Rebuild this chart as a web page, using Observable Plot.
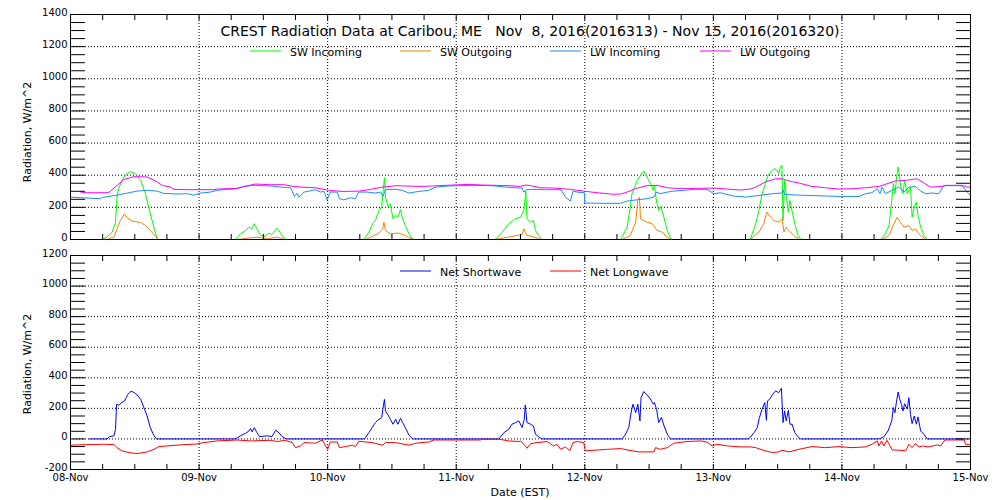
<!DOCTYPE html>
<html><head><meta charset="utf-8">
<script src="https://cdn.jsdelivr.net/npm/d3@7"></script>
<script src="https://cdn.jsdelivr.net/npm/@observablehq/plot@0.6"></script>
<style>
body{margin:0;background:#fff;}
#wrap{position:relative;width:1000px;height:500px;font-family:"DejaVu Sans",sans-serif;}
#wrap svg{position:absolute;left:0;}
</style></head><body><div id="wrap"></div>
<script>
// ---- data (hours since 08-Nov 00:00 EST, W/m^2) ----
const dayTicks = [0, 24, 48, 72, 96, 120, 144, 168];
const dayLabels = ["08-Nov", "09-Nov", "10-Nov", "11-Nov", "12-Nov", "13-Nov", "14-Nov", "15-Nov"];
const titleText = "CREST Radiation Data at Caribou, ME   Nov  8, 2016(2016313) - Nov 15, 2016(2016320)";
const yTitle = "Radiation, W/m^2";
const xTitle = "Date (EST)";
const topLegend = ["SW Incoming", "SW Outgoing", "LW Incoming", "LW Outgoing"];
const topColors = ["#00ff00", "#ff7f00", "#1e8cff", "#ff00ff"];
const botLegend = ["Net Shortwave", "Net Longwave"];
const botColors = ["#0000ff", "#ff0000"];

const swIncoming = [[0,0],[5.9,0],[6.8,15],[7.8,46],[8.4,108],[8.7,274],[9.0,316],[9.6,368],[10.3,405],[11.2,422],[12.1,410],[13.1,368],[14.0,285],[14.9,160],[15.9,35],[16.3,0],
[30.8,0],[31.7,35],[32.7,56],[33.3,77],[33.9,67],[34.3,98],[34.8,67],[35.5,25],[36.4,19],[37.0,40],[37.6,31],[38.5,71],[38.9,56],[39.8,10],[40.3,0],
[54.8,0],[55.7,46],[56.4,98],[56.9,118],[57.6,181],[58.1,202],[58.3,285],[58.6,385],[58.8,264],[59.3,202],[59.7,222],[60.2,129],[60.7,150],[61.1,139],[61.6,185],[62.0,129],[62.5,87],[63.2,35],[63.9,0],
[79.3,0],[80.6,46],[81.8,98],[83.1,129],[84.0,139],[84.6,181],[84.9,264],[85.0,300],[85.2,129],[85.9,108],[86.4,118],[86.8,56],[87.4,25],[88.0,0],
[102.7,0],[103.9,77],[104.5,202],[104.8,285],[105.3,326],[105.8,368],[106.4,399],[107.0,426],[107.6,389],[108.3,347],[108.8,306],[109.0,337],[109.4,233],[109.8,181],[110.1,206],[110.6,160],[111.4,56],[112.1,0],
[126.9,0],[127.9,98],[128.5,181],[129.1,285],[129.7,347],[130.2,399],[130.7,420],[131.3,441],[131.9,430],[132.2,410],[132.5,451],[132.8,462],[133.0,118],[133.3,368],[133.6,274],[134.0,170],[134.3,243],[134.6,191],[134.8,160],[135.3,87],[135.8,25],[136.3,0],
[151.2,0],[152.1,35],[152.8,87],[153.3,243],[153.6,347],[153.9,285],[154.2,389],[154.5,451],[154.7,410],[155.0,326],[155.4,285],[155.7,368],[156.2,285],[156.8,326],[157.1,139],[157.5,202],[157.9,233],[158.2,150],[158.7,77],[159.3,25],[159.9,0],[168,0]];

const swOutgoing = [[0,0],[6.8,0],[8.1,15],[8.7,67],[9.3,118],[10.1,160],[10.6,135],[11.5,114],[13.1,106],[14.0,87],[14.9,56],[15.9,19],[16.3,0],
[31.1,0],[33.6,10],[34.8,15],[36.7,4],[38.6,15],[39.8,0],
[55.1,0],[56.3,19],[57.6,40],[58.3,67],[58.5,108],[58.8,56],[59.7,35],[61.3,40],[62.5,25],[63.8,0],
[79.3,0],[81.8,15],[84.3,31],[84.6,67],[84.9,45],[85.2,25],[86.2,19],[87.1,10],[87.7,0],
[103.0,0],[104.5,25],[105.5,108],[105.9,243],[106.2,262],[106.4,129],[107.3,112],[108.6,98],[109.5,56],[110.4,46],[111.4,15],[112.0,0],
[126.9,0],[128.5,46],[129.4,98],[130.0,170],[130.7,139],[131.3,118],[132.2,108],[132.8,129],[133.2,46],[133.6,77],[134.1,56],[135.0,25],[136.0,0],
[151.5,0],[152.8,25],[153.7,98],[154.3,139],[154.9,108],[155.6,77],[156.5,87],[157.1,56],[157.7,67],[158.4,35],[159.6,0],[168,0]];

const lwIncoming = [[0,264],[1.9,260],[5.6,254],[5.9,262],[8.7,276],[10.6,289],[12.4,301],[14.3,306],[16.2,301],[17.4,287],[19.9,283],[21.8,285],[23.0,276],[24.3,289],[26.1,295],[27.4,306],[29.2,312],[31.1,316],[32.4,330],[34.2,337],[37.3,333],[39.2,326],[41.1,322],[41.8,268],[42.3,289],[42.6,264],[43.6,295],[44.5,301],[45.7,310],[46.7,295],[47.3,301],[47.9,247],[48.5,295],[49.8,295],[50.2,254],[51.0,247],[52.3,260],[53.2,254],[53.8,295],[55.4,295],[56.9,289],[57.9,295],[58.3,268],[58.8,310],[60.7,312],[61.9,306],[63.2,289],[65.0,299],[66.9,306],[68.1,326],[70.6,333],[75.0,337],[78.7,335],[81.2,326],[83.1,322],[84.3,320],[84.6,295],[85.2,310],[86.5,312],[89.0,310],[91.5,310],[92.4,264],[93.3,239],[93.8,301],[94.9,293],[95.9,293],[96.0,227],[99.6,225],[102.7,225],[103.9,239],[105.8,247],[107.6,254],[108.9,264],[109.4,295],[110.1,285],[111.4,295],[112.6,301],[114.5,306],[116.4,312],[118.8,312],[120.1,285],[121.3,291],[123.8,270],[126.0,264],[128.5,274],[131.0,285],[132.8,289],[133.0,310],[133.3,281],[136.0,276],[139.7,272],[143.4,268],[147.2,268],[148.4,285],[149.6,291],[150.6,316],[151.1,285],[151.5,326],[152.1,285],[153.4,306],[154.6,326],[155.6,295],[156.5,326],[157.7,330],[158.7,301],[159.6,285],[160.8,289],[162.1,285],[162.8,326],[163.3,335],[166.4,335],[167.1,306],[168,274]];

const lwOutgoing = [[1.9,295],[3.0,291],[7.0,291],[7.5,301],[8.7,337],[10.0,374],[11.8,391],[14.3,389],[15.9,364],[17.1,337],[18.7,326],[19.3,312],[21.8,310],[26.8,310],[27.4,314],[31.0,318],[32.4,330],[34.5,345],[37.3,341],[39.8,341],[41.7,330],[43.0,326],[45.7,322],[48.2,306],[50.7,299],[53.8,301],[55.7,310],[58.2,326],[60.7,335],[65.6,330],[70.0,337],[74.4,343],[76.8,339],[81.8,335],[84.0,330],[84.9,339],[85.9,335],[87.7,322],[90.2,320],[93.3,312],[95.8,301],[98.3,291],[101.4,281],[102.7,283],[103.9,295],[105.8,320],[107.6,335],[109.5,337],[111.4,322],[113.2,318],[116.4,318],[120.1,320],[122.6,314],[125.1,308],[126.9,314],[127.9,326],[129.7,358],[131.6,378],[132.8,378],[134.1,364],[136.0,351],[138.4,330],[140.9,322],[143.4,314],[145.9,316],[148.4,322],[150.9,330],[152.1,343],[154.0,364],[155.9,368],[158.0,378],[159.0,358],[160.5,326],[162.7,330],[163.3,337],[166.4,337],[167.4,326],[168,326]];

const netShortwave = [[3.5,0],[6.8,0],[7.3,15],[8.1,20],[8.4,63],[8.6,227],[9.0,220],[9.6,238],[10.1,249],[10.3,264],[10.7,292],[11.3,312],[11.9,303],[12.6,281],[13.1,259],[13.7,205],[14.3,150],[14.9,74],[15.6,20],[16.1,0],
[30.8,0],[31.7,20],[32.7,37],[33.3,52],[33.6,68],[33.9,46],[34.3,74],[34.8,41],[35.3,15],[36.7,20],[37.6,15],[38.3,57],[38.9,41],[39.5,15],[40.3,0],
[54.9,0],[55.7,41],[56.3,74],[56.9,107],[57.6,129],[58.1,140],[58.3,194],[58.6,259],[58.8,183],[59.3,155],[59.7,129],[60.2,96],[60.7,129],[61.1,96],[61.6,135],[62.0,107],[62.5,74],[63.2,24],[63.9,0],
[80.0,0],[80.9,41],[81.8,63],[82.4,96],[83.1,107],[83.7,118],[84.3,74],[84.7,129],[84.9,222],[85.2,107],[85.9,96],[86.4,85],[86.8,31],[87.4,13],[88.0,0],
[103.0,0],[103.6,31],[104.2,74],[104.7,183],[105.0,227],[105.5,172],[105.9,227],[106.3,118],[106.5,270],[107.0,310],[107.5,292],[108.1,270],[108.8,227],[109.0,238],[109.4,194],[109.8,107],[110.3,140],[110.8,85],[111.4,31],[112.0,0],
[126.6,0],[127.6,41],[128.2,74],[128.6,140],[129.1,194],[129.6,238],[129.9,122],[130.1,249],[130.5,259],[131.0,288],[131.6,314],[132.2,303],[132.7,331],[133.0,107],[133.3,183],[133.6,118],[134.0,187],[134.3,96],[134.7,96],[135.2,41],[135.8,13],[136.3,0],
[150.9,0],[151.8,13],[152.6,52],[153.3,118],[153.6,205],[153.9,172],[154.2,249],[154.5,307],[154.8,259],[155.1,227],[155.4,183],[155.7,231],[156.2,194],[156.5,270],[156.8,161],[157.1,100],[157.5,150],[157.9,96],[158.2,144],[158.7,52],[159.3,31],[159.9,0],[166.6,0]];

const netLongwave = [[0,-41],[3.1,-37],[6.2,-35],[8.1,-37],[8.7,-57],[9.6,-78],[10.9,-89],[12.4,-96],[14.3,-85],[15.6,-68],[16.5,-50],[18.0,-46],[20.5,-39],[23.6,-33],[24.9,-24],[27.4,-13],[31.1,-7],[33.6,-13],[37.3,-9],[38.6,-17],[40.1,-9],[41.4,-24],[42.0,-57],[42.9,-46],[43.6,-24],[45.7,-28],[47.0,-7],[47.6,-46],[48.0,-68],[48.5,-20],[49.8,-20],[50.2,-57],[51.3,-50],[52.6,-41],[53.2,-50],[53.8,-15],[56.3,-24],[58.3,-41],[58.8,-24],[60.7,-24],[63.2,-41],[64.4,-28],[66.9,-20],[67.8,-7],[71.9,-7],[76.5,-7],[76.8,-2],[80.0,-2],[81.8,-13],[83.7,-17],[84.0,-13],[84.9,-46],[85.2,-61],[85.9,-31],[87.1,-24],[89.0,-17],[90.2,-46],[90.8,-35],[91.5,-68],[92.4,-52],[93.2,-78],[93.8,-24],[94.6,-17],[95.8,-24],[96.1,-78],[97.7,-74],[100.2,-68],[102.7,-63],[103.9,-72],[106.1,-85],[108.9,-85],[109.2,-57],[110.1,-68],[111.4,-57],[112.6,-28],[115.1,-17],[117.6,-13],[118.8,-20],[119.8,-46],[120.7,-35],[122.6,-46],[125.1,-52],[126.9,-52],[127.9,-57],[129.7,-78],[131.0,-89],[132.2,-85],[132.8,-74],[134.1,-85],[136.0,-68],[138.4,-50],[140.9,-57],[143.4,-50],[145.9,-57],[148.4,-52],[149.6,-35],[150.6,-13],[150.9,-46],[151.4,-13],[151.8,-46],[152.4,-9],[153.4,-72],[154.6,-74],[155.9,-78],[156.5,-35],[157.1,-57],[157.7,-31],[158.4,-52],[159.0,-46],[160.2,-52],[161.8,-39],[162.4,-46],[163.2,-7],[165.2,-7],[166.8,-7],[167.1,-35],[168,-39]];

// ---- chart ----
const wrap = document.getElementById("wrap");
const sixHour = d3.range(0, 169, 6);
const dots = {stroke: "black", strokeOpacity: 1, strokeDasharray: "1,2"};
const fontStyle = {fontFamily: "DejaVu Sans", fontSize: "10px", color: "black", background: "transparent", overflow: "visible"};

function panel({height, top, mTop, mBottom, yDomain, yGrid, yMinor, yLabels, series, showX}) {
  const marks = [
    Plot.gridY(yGrid, dots),
    Plot.gridX(dayTicks.slice(1, -1), dots),
    ...series.map(([data, color]) => Plot.line(data, {x: d => d[0], y: d => d[1], stroke: color, strokeWidth: 1})),
    Plot.frame({stroke: "black"}),
    Plot.axisY(yMinor, {anchor: "left", tickSize: -15, tickFormat: () => "", label: null}),
    Plot.axisY(yMinor, {anchor: "right", tickSize: -15, tickFormat: () => "", label: null}),
    Plot.axisY(yLabels, {anchor: "left", tickSize: 0, tickPadding: 3, dy: -2, tickFormat: d => String(d), label: null}),
    Plot.axisX(sixHour, {anchor: "bottom", tickSize: -5, tickFormat: () => "", label: null}),
    Plot.axisX(sixHour, {anchor: "top", tickSize: -5, tickFormat: () => "", label: null})
  ];
  if (showX) {
    marks.push(Plot.axisX(dayTicks, {anchor: "bottom", tickSize: 0, tickPadding: 4,
      tickFormat: d => dayLabels[dayTicks.indexOf(d)], label: null}));
  }
  const svg = Plot.plot({
    width: 1000, height, marginLeft: 70, marginRight: 30, marginTop: mTop, marginBottom: mBottom,
    x: {domain: [0, 168]}, y: {domain: yDomain},
    style: fontStyle,
    marks
  });
  svg.style.top = top + "px";
  wrap.appendChild(svg);
}

panel({height: 250, top: 0, mTop: 14, mBottom: 11, yDomain: [0, 1400],
  yGrid: [200, 400, 600, 800, 1000, 1200], yMinor: d3.range(0, 1401, 50),
  yLabels: d3.range(0, 1401, 200),
  series: [[swIncoming, topColors[0]], [swOutgoing, topColors[1]], [lwIncoming, topColors[2]], [lwOutgoing, topColors[3]]],
  showX: false});

panel({height: 250, top: 250, mTop: 5, mBottom: 31, yDomain: [-200, 1200],
  yGrid: [0, 200, 400, 600, 800, 1000], yMinor: d3.range(-200, 1201, 50),
  yLabels: d3.range(-200, 1201, 200),
  series: [[netShortwave, botColors[0]], [netLongwave, botColors[1]]],
  showX: true});

// ---- title, axis titles and legends (overlay) ----
const ov = d3.select(wrap).append("svg").attr("width", 1000).attr("height", 500)
  .style("top", "0px").style("font-family", "DejaVu Sans");
ov.append("text").attr("x", 530).attr("y", 36).attr("text-anchor", "middle")
  .style("font-size", "14px").style("white-space", "pre").text(titleText);
[132, 364].forEach(cy => {
  ov.append("text").attr("transform", `translate(31,${cy}) rotate(-90)`).attr("text-anchor", "middle")
    .style("font-size", "11px").text(yTitle);
});
ov.append("text").attr("x", 520).attr("y", 496).attr("text-anchor", "middle")
  .style("font-size", "11px").text(xTitle);
function legend(items, colors, x0, step, y) {
  items.forEach((t, i) => {
    const x = x0 + i * step;
    ov.append("line").attr("x1", x).attr("x2", x + 31).attr("y1", y).attr("y2", y)
      .attr("stroke", colors[i]).attr("stroke-width", 1);
    ov.append("text").attr("x", x + 40).attr("y", y + 4.5).style("font-size", "11px").text(t);
  });
}
legend(topLegend, topColors, 250, 150, 51);
legend(botLegend, botColors, 400, 150, 271);
</script></body></html>
